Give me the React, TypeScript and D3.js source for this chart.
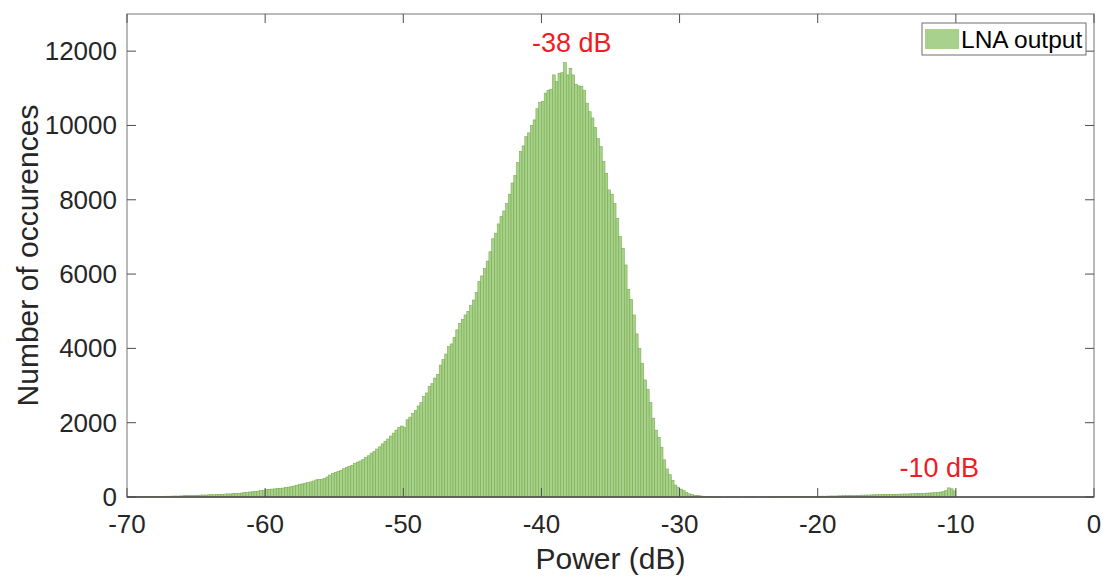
import React from "react";
import * as d3 from "d3";

// Histogram of LNA output power, 0.2 dB bins from -70 dB to -10 dB
const binStart = -70;
const binWidth = 0.2;
const counts: number[] = [
  // -70 .. -56
  4, 6, 5, 8, 7, 9, 11, 10, 13, 12, 15, 14, 18, 17, 21, 20, 24, 27, 25, 30,
  34, 38, 36, 42, 45, 44, 50, 55, 52, 58, 62, 60, 68, 72, 70, 78, 84, 82, 92, 98,
  95, 108, 118, 122, 135, 142, 150, 158, 170, 175, 205, 208, 212, 218, 225, 232, 240, 255, 265, 280,
  295, 318, 340, 352, 372, 385, 405, 430, 460, 470,
  // -56 .. -46
  470, 500, 540, 590, 630, 660, 690, 715, 760, 800,
  830, 850, 900, 940, 970, 1010, 1070, 1110, 1180, 1230,
  1290, 1350, 1430, 1500, 1560, 1640, 1720, 1800, 1870, 1910,
  1870, 2080, 2150, 2250, 2330, 2450, 2540, 2700, 2800, 2980,
  3050, 3200, 3300, 3550, 3700, 3850, 4050, 4120, 4300, 4500,
  // -46 .. -40
  4675, 4780, 4900, 5000, 5150, 5300, 5500, 5800, 5950, 6150,
  6350, 6600, 6950, 7100, 7350, 7550, 7700, 7900, 8150, 8450,
  8650, 9000, 9300, 9450, 9700, 9800, 10000, 10150, 10450, 10620,
  // -40 .. -34
  10650, 10870, 10950, 10975, 11360, 11180, 11405, 11420, 11690, 11360,
  11540, 11360, 11110, 11065, 11050, 10950, 10600, 10370, 10200, 9950,
  9650, 9430, 9025, 8715, 8265, 8150, 7900, 7500, 7010, 6695,
  // -34 .. -28
  6245, 5590, 5320, 4900, 4390, 4000, 3600, 3150, 2900, 2540,
  2120, 1800, 1605, 1340, 1000, 755, 600, 450, 320, 265,
  210, 170, 120, 85, 65, 45, 38, 32, 22, 14,
  // -28 .. -10
  10, 8, 6, 5, 4, 3, 0, 4, 3, 5, 2, 4, 0, 5, 4, 6, 3, 7, 0, 5,
  6, 7, 5, 8, 7, 8, 9, 7, 10, 9, 11, 10, 12, 13, 12, 14, 16, 15, 18, 17,
  20, 22, 21, 24, 26, 28, 27, 31, 33, 35, 38, 40, 39, 43, 45, 48, 50, 54, 52, 57,
  60, 62, 61, 66, 68, 70, 72, 69, 74, 76, 78, 82, 80, 86, 88, 92, 95, 99, 97, 104,
  108, 112, 118, 124, 132, 145, 175, 245, 220, 165,
];

const xTicks = [-70, -60, -50, -40, -30, -20, -10, 0];
const yTicks = [0, 2000, 4000, 6000, 8000, 10000, 12000];
const xLabel = "Power (dB)";
const yLabel = "Number of occurences";
const legendLabel = "LNA output";
const annotations = [
  { x: -37.8, y: 11690, text: "-38 dB" },
  { x: -11.2, y: 245, text: "-10 dB" },
];

const W = 1106;
const H = 579;
const M = { left: 127, right: 1094, top: 14, bottom: 497 };
const FONT = "'Liberation Sans', Arial, Helvetica, sans-serif";
const FILL = "#a9d18e";
const EDGE = "#78ad4a";
const TEXT = "#262626";
const RED = "#ee1c25";

export default function App() {
  const x = d3.scaleLinear().domain([-70, 0]).range([M.left, M.right]);
  const y = d3.scaleLinear().domain([0, 13000]).range([M.bottom, M.top]);
  const bins = counts.map((c, i) => ({
    x0: binStart + i * binWidth,
    x1: binStart + (i + 1) * binWidth,
    c,
  }));
  const tl = 9;
  return (
    <svg width={W} height={H} style={{ position: "absolute", left: 0, top: 0, background: "#fff" }}>
      <rect x={0} y={0} width={W} height={H} fill="#fff" />
      {/* bars */}
      <g>
        {bins.map((b, i) =>
          b.c > 0 ? (
            <rect
              key={i}
              x={x(b.x0)}
              y={y(b.c)}
              width={x(b.x1) - x(b.x0)}
              height={y(0) - y(b.c)}
              fill={FILL}
              stroke={EDGE}
              strokeWidth={0.6}
            />
          ) : null
        )}
      </g>
      {/* box */}
      <rect
        x={M.left}
        y={M.top}
        width={M.right - M.left}
        height={M.bottom - M.top}
        fill="none"
        stroke="#8c8c8c"
        strokeWidth={1.2}
      />
      <line x1={M.left} x2={M.right} y1={M.bottom} y2={M.bottom} stroke="#4d4d4d" strokeWidth={1.3} />
      {/* x ticks */}
      {xTicks.map((t) => (
        <g key={"xt" + t}>
          <line x1={x(t)} x2={x(t)} y1={M.bottom} y2={M.bottom - tl} stroke="#4d4d4d" strokeWidth={1} />
          <line x1={x(t)} x2={x(t)} y1={M.top} y2={M.top + tl} stroke="#4d4d4d" strokeWidth={1} />
          <text
            x={x(t)}
            y={M.bottom + 36}
            textAnchor="middle"
            fontFamily={FONT}
            fontSize={26}
            fill={TEXT}
          >
            {t}
          </text>
        </g>
      ))}
      {/* y ticks */}
      {yTicks.map((t) => (
        <g key={"yt" + t}>
          <line x1={M.left} x2={M.left + tl} y1={y(t)} y2={y(t)} stroke="#4d4d4d" strokeWidth={1} />
          <line x1={M.right} x2={M.right - tl} y1={y(t)} y2={y(t)} stroke="#4d4d4d" strokeWidth={1} />
          <text
            x={M.left - 10}
            y={y(t) + 9}
            textAnchor="end"
            fontFamily={FONT}
            fontSize={26}
            fill={TEXT}
          >
            {t}
          </text>
        </g>
      ))}
      {/* axis labels */}
      <text
        x={(M.left + M.right) / 2}
        y={569}
        textAnchor="middle"
        fontFamily={FONT}
        fontSize={30}
        fill={TEXT}
      >
        {xLabel}
      </text>
      <text
        transform={`translate(38, ${(M.top + M.bottom) / 2}) rotate(-90)`}
        textAnchor="middle"
        fontFamily={FONT}
        fontSize={30}
        fill={TEXT}
      >
        {yLabel}
      </text>
      {/* annotations */}
      {annotations.map((a) => (
        <text
          key={a.text}
          x={x(a.x)}
          y={y(a.y) - 11}
          textAnchor="middle"
          fontFamily={FONT}
          fontSize={27}
          fill={RED}
        >
          {a.text}
        </text>
      ))}
      {/* legend */}
      <g>
        <rect x={922} y={23} width={164} height={32} fill="#fff" stroke="#6e6e6e" strokeWidth={1} />
        <rect x={925} y={29} width={34} height={20} fill={FILL} />
        <text x={961} y={48} fontFamily={FONT} fontSize={24.5} fill="#000">
          {legendLabel}
        </text>
      </g>
    </svg>
  );
}
